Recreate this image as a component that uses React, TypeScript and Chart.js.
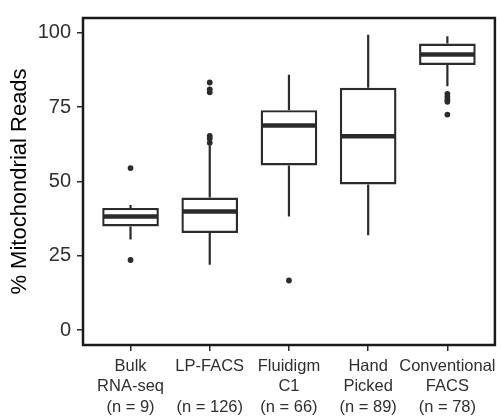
import React, { useEffect, useRef } from "react";
import { Chart, registerables } from "chart.js";

Chart.register(...registerables);

const categories = ["Bulk RNA-seq", "LP-FACS", "Fluidigm C1", "Hand Picked", "Conventional FACS"];
const tickLabels: string[][] = [
  ["Bulk", "RNA-seq", "(n = 9)"],
  ["LP-FACS", "", "(n = 126)"],
  ["Fluidigm", "C1", "(n = 66)"],
  ["Hand", "Picked", "(n = 89)"],
  ["Conventional", "FACS", "(n = 78)"],
];
const whiskerLow = [30.5, 22.0, 38.2, 31.9, 82.0];
const q1 = [34.9, 32.7, 55.4, 49.0, 89.2];
const median = [38.2, 39.9, 68.8, 65.2, 92.7];
const q3 = [41.1, 44.6, 74.0, 81.5, 96.4];
const whiskerHigh = [42.1, 62.2, 85.9, 99.4, 98.9];
const outliers: number[][] = [
  [54.5, 23.6],
  [63.0, 64.5, 65.3, 80.0, 81.0, 83.3],
  [16.7],
  [],
  [79.5, 78.5, 77.5, 76.8, 72.5],
];
const yTicks = [0, 25, 50, 75, 100];
const yTitle = "% Mitochondrial Reads";

const LINE = "#2b2b2b";

const boxPlugin = {
  id: "boxParts",
  beforeDatasetsDraw(chart: any) {
    const { ctx, scales } = chart;
    const xs = scales.x, ys = scales.y;
    ctx.save();
    ctx.strokeStyle = LINE;
    ctx.lineWidth = 2.2;
    categories.forEach((_, i) => {
      const px = xs.getPixelForValue(i + 1);
      ctx.beginPath();
      ctx.moveTo(px, ys.getPixelForValue(q3[i]));
      ctx.lineTo(px, ys.getPixelForValue(whiskerHigh[i]));
      ctx.moveTo(px, ys.getPixelForValue(q1[i]));
      ctx.lineTo(px, ys.getPixelForValue(whiskerLow[i]));
      ctx.stroke();
    });
    ctx.restore();
  },
  afterDatasetsDraw(chart: any) {
    const { ctx, scales } = chart;
    const xs = scales.x, ys = scales.y;
    const meta = chart.getDatasetMeta(0);
    ctx.save();
    ctx.strokeStyle = LINE;
    ctx.lineWidth = 4.5;
    categories.forEach((_, i) => {
      const bar = meta.data[i];
      const half = bar.width / 2;
      const px = xs.getPixelForValue(i + 1);
      const py = ys.getPixelForValue(median[i]);
      ctx.beginPath();
      ctx.moveTo(px - half + 1, py);
      ctx.lineTo(px + half - 1, py);
      ctx.stroke();
    });
    ctx.restore();
  },
  afterDraw(chart: any) {
    const { ctx, chartArea } = chart;
    ctx.save();
    ctx.strokeStyle = "#1a1a1a";
    ctx.lineWidth = 2.5;
    ctx.strokeRect(chartArea.left, chartArea.top, chartArea.right - chartArea.left, chartArea.bottom - chartArea.top);
    ctx.restore();
  },
};

export default function App() {
  const ref = useRef<HTMLCanvasElement | null>(null);
  useEffect(() => {
    if (!ref.current) return;
    const outlierPoints: { x: number; y: number }[] = [];
    outliers.forEach((arr, i) => arr.forEach((v) => outlierPoints.push({ x: i + 1, y: v })));
    const chart = new Chart(ref.current, {
      type: "bar",
      data: {
        datasets: [
          {
            type: "bar",
            data: categories.map((_, i) => ({ x: i + 1, y: [q1[i], q3[i]] })) as any,
            backgroundColor: "#ffffff",
            borderColor: LINE,
            borderWidth: 2.4,
            borderSkipped: false,
            barPercentage: 0.715,
            categoryPercentage: 1,
          } as any,
          {
            type: "scatter",
            data: outlierPoints,
            backgroundColor: LINE,
            borderColor: LINE,
            pointRadius: 2.9,
            borderWidth: 0,
          } as any,
        ],
      },
      options: {
        animation: false,
        responsive: false,
        layout: { padding: { top: 13, right: 4, left: 0, bottom: 0 } },
        plugins: { legend: { display: false }, tooltip: { enabled: false } },
        scales: {
          x: {
            type: "linear",
            min: 0.4,
            max: 5.6,
            offset: false,
            afterBuildTicks: (s: any) => {
              s.ticks = categories.map((_, i) => ({ value: i + 1 }));
            },
            afterFit: (s: any) => {
              s.height = 72;
            },
            grid: {
              display: true,
              offset: false,
              drawOnChartArea: false,
              drawTicks: true,
              tickLength: 6,
              color: LINE,
              lineWidth: 1.5,
            },
            border: { display: false },
            ticks: {
              autoSkip: false,
              maxRotation: 0,
              minRotation: 0,
              padding: 5,
              color: "#2f2f2f",
              font: { family: "'Liberation Sans', Arial, sans-serif", size: 16.5, lineHeight: 1.25 },
              callback: (v: any) => tickLabels[Math.round(Number(v)) - 1] ?? "",
            },
          },
          y: {
            type: "linear",
            min: -5,
            max: 105,
            afterBuildTicks: (s: any) => {
              s.ticks = yTicks.map((v) => ({ value: v }));
            },
            afterFit: (s: any) => {
              s.width = 83;
            },
            grid: {
              display: true,
              drawOnChartArea: false,
              drawTicks: true,
              tickLength: 6,
              color: LINE,
              lineWidth: 1.5,
            },
            border: { display: false },
            title: {
              display: true,
              text: yTitle,
              color: "#000000",
              padding: { top: 7, bottom: 0 },
              font: { family: "'Liberation Sans', Arial, sans-serif", size: 22 },
            },
            ticks: {
              padding: 6,
              color: "#2f2f2f",
              font: { family: "'Liberation Sans', Arial, sans-serif", size: 20 },
              callback: (v: any) => String(v),
            },
          },
        },
      } as any,
      plugins: [boxPlugin],
    });
    return () => chart.destroy();
  }, []);
  return (
    <div style={{ position: "absolute", left: 0, top: 0, width: 501, height: 417, background: "#fff" }}>
      <canvas ref={ref} width={501} height={417} style={{ display: "block", width: 501, height: 417 }} />
    </div>
  );
}
